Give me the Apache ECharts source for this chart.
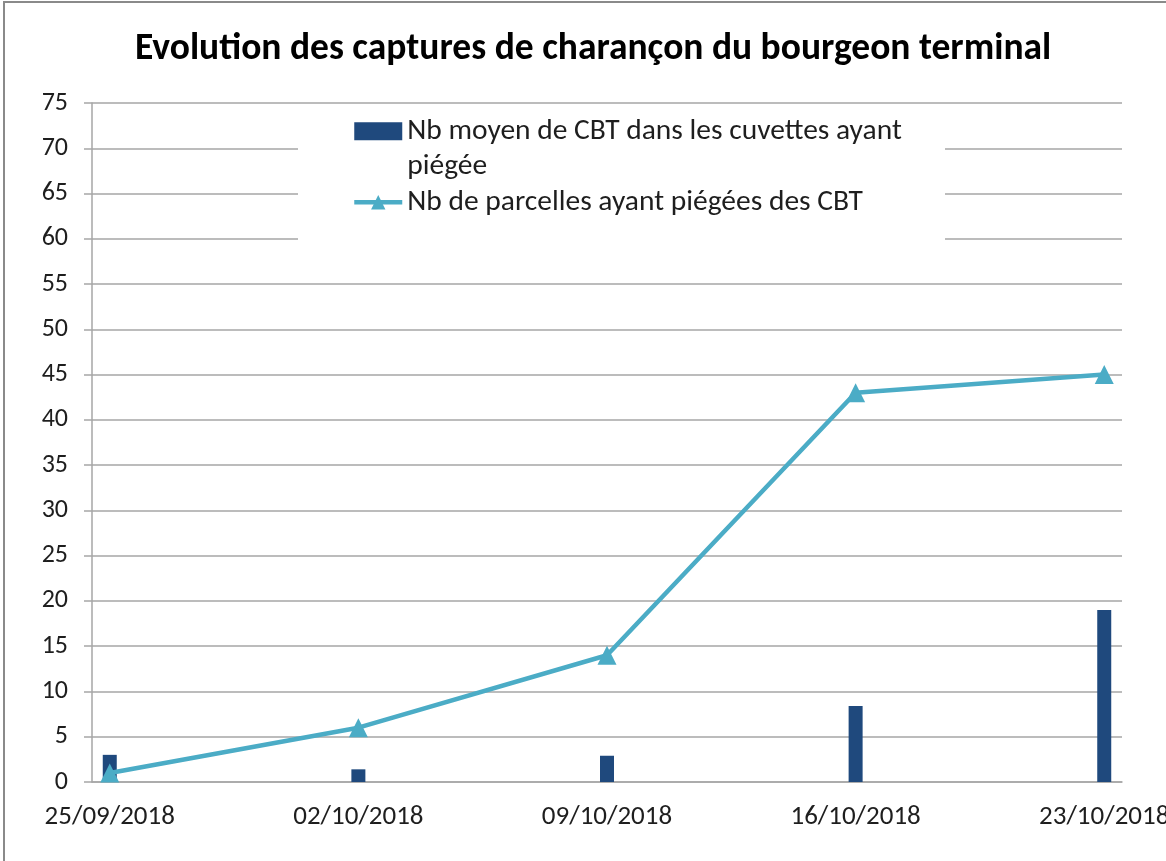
<!DOCTYPE html>
<html>
<head>
<meta charset="utf-8">
<script src="https://cdn.jsdelivr.net/npm/echarts@6/dist/echarts.min.js"></script>
<style>
  html, body { margin: 0; padding: 0; background: #fff; }
  #chart { width: 1166px; height: 861px; }
</style>
</head>
<body>
<div id="chart"></div>
<script>
// weekly dates
var weekLabels = ['25/09/2018', '02/10/2018', '09/10/2018', '16/10/2018', '23/10/2018'];
var barName = 'Nb moyen de CBT dans les cuvettes ayant piégée';
var lineName = 'Nb de parcelles ayant piégées des CBT';
var barValues = [3, 1.4, 2.9, 8.4, 19];
var lineValues = [1, 6, 14, 43, 45];
var yTicks = { min: 0, max: 75, step: 5 };

// Excel date axis: one slot per day from the first date to the last
function buildDays(first, last) {
  var p = first.split('/'), q = last.split('/');
  var d = new Date(+p[2], +p[1] - 1, +p[0]);
  var end = new Date(+q[2], +q[1] - 1, +q[0]);
  var out = [];
  while (d <= end) {
    out.push(('0' + d.getDate()).slice(-2) + '/' + ('0' + (d.getMonth() + 1)).slice(-2) + '/' + d.getFullYear());
    d.setDate(d.getDate() + 1);
  }
  return out;
}
var days = buildDays(weekLabels[0], weekLabels[weekLabels.length - 1]);

function pairs(vals) {
  return weekLabels.map(function (lab, i) { return [lab, vals[i]]; });
}

var font = 'Carlito, Lato, "Liberation Sans", sans-serif';
var textCol = '#1e1e1e';
var gridCol = '#a6a6a6';
var chart = echarts.init(document.getElementById('chart'));
var option = {
  animation: false,
  textStyle: { fontFamily: font },
  title: {
    text: 'Evolution des captures de charançon du bourgeon terminal',
    left: 135,
    top: 31,
    padding: 0,
    textStyle: { fontFamily: font, fontSize: 37.5, fontWeight: 'bold', color: '#000' }
  },
  graphic: [
    {
      type: 'rect', z: 3, silent: true,
      shape: { x: 298, y: 106, width: 647, height: 136 },
      style: { fill: '#fff' }
    },
    {
      type: 'rect', z: 1, silent: true,
      shape: { x: 4, y: 2, width: 1200, height: 900 },
      style: { fill: 'none', stroke: '#8a8a8a', lineWidth: 2 }
    }
  ],
  legend: {
    orient: 'vertical',
    left: 352,
    top: 78,
    padding: 0,
    itemGap: 0,
    itemWidth: 48,
    itemHeight: 18,
    textStyle: { fontFamily: font, fontSize: 29.5, color: textCol, lineHeight: 35.5 },
    data: [
      { name: barName, icon: 'rect' },
      { name: lineName, lineStyle: { width: 4.5 } }
    ],
    // leading blank line keeps the icon level with the first text line
    formatter: function (name) {
      return name === barName ? '\nNb moyen de CBT dans les cuvettes ayant\npiégée' : name;
    }
  },
  grid: { left: 92, right: 44, top: 103, bottom: 79, outerBoundsMode: 'none' },
  xAxis: {
    type: 'category',
    data: days,
    boundaryGap: true,
    axisLine: { lineStyle: { color: gridCol, width: 1.5 } },
    axisTick: {
      interval: function (idx) { return idx % 7 === 0; },
      length: 7,
      lineStyle: { color: gridCol, width: 1.5 }
    },
    axisLabel: {
      interval: function (idx) { return idx % 7 === 0; },
      margin: 22,
      fontSize: 27,
      color: textCol,
      fontFamily: font
    },
    splitLine: { show: false }
  },
  yAxis: {
    type: 'value',
    min: yTicks.min,
    max: yTicks.max,
    interval: yTicks.step,
    axisLine: { show: true, lineStyle: { color: gridCol, width: 1.5 } },
    axisTick: { show: true, length: 8, lineStyle: { color: gridCol, width: 1.5 } },
    axisLabel: { fontSize: 26, color: textCol, margin: 24, fontFamily: font },
    splitLine: { lineStyle: { color: gridCol, width: 1.5 } }
  },
  series: [
    {
      name: barName,
      type: 'bar',
      barWidth: 14,
      itemStyle: { color: '#1f497d' },
      data: pairs(barValues)
    },
    {
      name: lineName,
      type: 'line',
      symbol: 'triangle',
      symbolSize: 19,
      lineStyle: { color: '#4bacc6', width: 4.5 },
      itemStyle: { color: '#4bacc6' },
      data: pairs(lineValues)
    }
  ]
};
option && chart.setOption(option);
window.addEventListener('resize', function () { chart.resize(); });
</script>
</body>
</html>
